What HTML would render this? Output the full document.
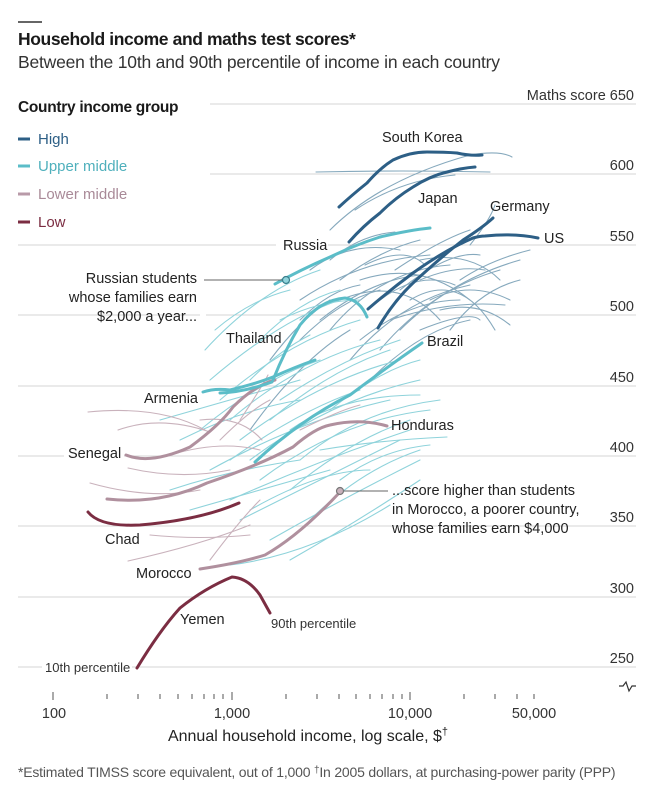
<!DOCTYPE html>
<html><head><meta charset="utf-8">
<style>
html,body{margin:0;padding:0;background:#fff;}
svg{display:block;font-family:"Liberation Sans",sans-serif;}
</style></head>
<body>
<svg width="661" height="800" viewBox="0 0 661 800" xmlns="http://www.w3.org/2000/svg">
<rect width="661" height="800" fill="#fff"/>
<line x1="18" y1="22" x2="42" y2="22" stroke="#333" stroke-width="1.5"/>
<text x="18" y="45" font-size="17.5" font-weight="bold" fill="#1a1a1a" letter-spacing="-0.4">Household income and maths test scores*</text>
<text x="18" y="68" font-size="17.5" fill="#333" letter-spacing="-0.2">Between the 10th and 90th percentile of income in each country</text>

<!-- gridlines -->
<g stroke="#d5d5d5" stroke-width="1">
<line x1="210" y1="104" x2="636" y2="104"/>
<line x1="210" y1="174" x2="636" y2="174"/>
<line x1="18" y1="245" x2="276" y2="245"/><line x1="328" y1="245" x2="636" y2="245"/>
<line x1="18" y1="315" x2="200" y2="315"/><line x1="206" y1="315" x2="636" y2="315"/>
<line x1="18" y1="386" x2="636" y2="386"/>
<line x1="18" y1="456" x2="64" y2="456"/><line x1="124" y1="456" x2="636" y2="456"/>
<line x1="18" y1="526" x2="636" y2="526"/>
<line x1="18" y1="597" x2="636" y2="597"/>
<line x1="18" y1="667" x2="42" y2="667"/><line x1="132" y1="667" x2="636" y2="667"/>
</g>
<g font-size="14.5" fill="#333" text-anchor="end">
<text x="634" y="100">Maths score 650</text>
<text x="634" y="170">600</text>
<text x="634" y="241">550</text>
<text x="634" y="311">500</text>
<text x="634" y="382">450</text>
<text x="634" y="452">400</text>
<text x="634" y="522">350</text>
<text x="634" y="593">300</text>
<text x="634" y="663">250</text>
</g>
<path d="M619,686 l4,0 l3,-4 l3,9 l3,-5 l4,0" fill="none" stroke="#333" stroke-width="1.2"/>

<!-- legend -->
<text x="18" y="112" font-size="15.5" font-weight="bold" fill="#1a1a1a" letter-spacing="-0.3">Country income group</text>
<g font-size="15">
<line x1="18" y1="139" x2="30" y2="139" stroke="#2d5f86" stroke-width="3"/><text x="38" y="144" fill="#2d5f86">High</text>
<line x1="18" y1="166" x2="30" y2="166" stroke="#5bbdc8" stroke-width="3"/><text x="38" y="171" fill="#4fb0bc">Upper middle</text>
<line x1="18" y1="194" x2="30" y2="194" stroke="#b89aa8" stroke-width="3"/><text x="38" y="199" fill="#a98a98">Lower middle</text>
<line x1="18" y1="222" x2="30" y2="222" stroke="#7b2d42" stroke-width="3"/><text x="38" y="227" fill="#7b2d42">Low</text>
</g>

<!-- thin lines -->
<g fill="none" stroke-width="1.1" stroke-linecap="round">
<g stroke="#86a9bd">
<path d="M316,172 Q400,170 490,172"/>
<path d="M330,230 Q380,180 470,155 Q500,150 512,157"/>
<path d="M355,210 Q400,180 455,175"/>
<path d="M300,300 Q360,260 430,255"/>
<path d="M330,330 Q380,270 450,265"/>
<path d="M350,360 Q400,300 470,285"/>
<path d="M380,350 Q430,290 500,270"/>
<path d="M400,330 Q450,280 520,260"/>
<path d="M360,280 Q420,260 470,300"/>
<path d="M410,300 Q460,270 495,330"/>
<path d="M420,260 Q470,250 500,280"/>
<path d="M340,300 Q400,275 440,320"/>
<path d="M390,320 Q450,300 505,305"/>
<path d="M470,245 Q490,220 495,205"/>
<path d="M450,330 Q480,290 520,280"/>
<path d="M310,270 Q350,240 400,250"/>
<path d="M420,330 Q470,310 480,320"/>
<path d="M370,380 Q420,330 470,320"/>
<path d="M300,340 Q340,300 380,290"/>
<path d="M430,300 Q470,280 510,300"/>
<path d="M365,265 Q405,245 425,265"/>
<path d="M250,430 Q300,360 350,330"/>
<path d="M270,360 Q300,320 330,300"/>
<path d="M400,290 Q450,250 480,255"/>
<path d="M340,280 Q380,250 420,240"/>
<path d="M320,320 Q370,280 420,275"/>
<path d="M360,340 Q410,300 460,300"/>
<path d="M440,310 Q480,300 510,325"/>
<path d="M380,300 Q420,270 455,285"/>
<path d="M460,280 Q490,260 530,250"/>
<path d="M330,260 Q360,235 395,232"/>
<path d="M300,320 Q330,290 360,285"/>
<path d="M420,280 Q455,265 485,270"/>
<path d="M395,270 Q440,240 470,230"/>
</g>
<g stroke="#8fd3db">
<path d="M205,350 Q260,290 320,270"/>
<path d="M215,330 Q250,300 290,290"/>
<path d="M210,380 Q280,320 340,300"/>
<path d="M220,400 Q290,340 360,320"/>
<path d="M230,420 Q300,360 380,340"/>
<path d="M240,440 Q320,380 400,360"/>
<path d="M250,460 Q330,400 420,380"/>
<path d="M210,470 Q300,420 390,400"/>
<path d="M260,480 Q340,420 430,410"/>
<path d="M230,500 Q320,460 410,430"/>
<path d="M300,460 Q360,410 440,400"/>
<path d="M240,520 Q320,480 400,440"/>
<path d="M270,540 Q340,500 420,460"/>
<path d="M290,560 Q360,520 420,480"/>
<path d="M230,565 Q310,555 390,505"/>
<path d="M320,450 Q380,440 447,437"/>
<path d="M290,430 Q340,395 420,395"/>
<path d="M160,420 Q230,400 300,380"/>
<path d="M180,440 Q240,410 300,400"/>
<path d="M250,510 Q320,470 370,470"/>
<path d="M330,410 Q380,370 420,360"/>
<path d="M260,340 Q300,300 340,290"/>
<path d="M280,320 Q320,300 360,300"/>
<path d="M170,490 Q230,470 300,460"/>
<path d="M200,430 Q260,380 320,360"/>
<path d="M230,460 Q300,410 360,390"/>
<path d="M270,420 Q330,370 390,350"/>
<path d="M290,490 Q350,440 410,420"/>
<path d="M310,520 Q360,470 420,450"/>
<path d="M190,510 Q260,490 330,470"/>
<path d="M340,480 Q380,450 430,445"/>
<path d="M250,380 Q280,350 310,335"/>
<path d="M280,400 Q340,360 400,340"/>
</g>
<g stroke="#c9b2bc">
<path d="M88,412 Q160,405 205,430"/>
<path d="M118,430 Q160,415 210,432"/>
<path d="M128,468 Q180,480 230,470"/>
<path d="M90,483 Q150,500 200,490"/>
<path d="M200,420 Q240,415 262,440"/>
<path d="M128,561 Q200,545 250,525"/>
<path d="M150,535 Q200,540 250,535"/>
<path d="M210,560 Q240,520 260,500"/>
<path d="M240,420 Q260,390 268,375"/>
<path d="M220,440 Q250,410 270,400"/>
<path d="M300,430 Q340,410 360,405"/>
<path d="M170,455 Q220,440 260,450"/>
</g>
</g>

<!-- thick lines -->
<g fill="none" stroke-width="3" stroke-linecap="round">
<path d="M126,455 Q150,465 190,447 Q220,425 233,407 Q255,385 275,380" stroke="#b0909e"/>
<path d="M107,499 Q160,505 207,483 Q260,465 293,447 Q315,428 330,425 Q360,418 387,426" stroke="#b0909e"/>
<path d="M200,569 Q240,563 265,555 Q300,535 340,492" stroke="#b0909e"/>
<path d="M88,512 Q100,527 140,525 Q200,520 239,503" stroke="#7b2d42"/>
<path d="M137,668 Q160,630 180,608 Q205,588 232,577 Q248,578 260,595 L270,613" stroke="#7b2d42"/>
<path d="M203,392 Q215,388 230,390 Q255,384 273,377 Q295,367 315,360" stroke="#5bbdc8"/>
<path d="M220,393 Q245,392 272,382" stroke="#5bbdc8"/>
<path d="M273,380 Q285,350 300,325 Q320,300 345,298 Q360,300 367,317" stroke="#5bbdc8"/>
<path d="M255,462 Q300,420 350,395 Q390,365 422,343" stroke="#5bbdc8"/>
<path d="M275,284 Q300,270 330,257 Q355,245 380,237 Q410,230 430,228" stroke="#5bbdc8"/>
<path d="M339,207 Q352,195 367,183 Q380,168 393,160 Q410,152 427,152 Q445,152 457,153 Q470,156 482,155" stroke="#2d5f86"/>
<path d="M349,242 Q363,226 380,213 Q395,198 413,187 Q430,176 447,172 Q462,168 475,167" stroke="#2d5f86"/>
<path d="M378,328 Q393,302 413,283 Q440,258 463,240 Q482,228 493,218" stroke="#2d5f86"/>
<path d="M368,309 Q390,290 413,273 Q445,250 473,238 Q480,236 485,236 Q515,233 538,238" stroke="#2d5f86"/>
</g>
<circle cx="286" cy="280" r="3.5" fill="#8fd3db" stroke="#3a7f8c" stroke-width="1.2"/>
<circle cx="340" cy="491" r="3.5" fill="#c9b2bc" stroke="#777" stroke-width="1.2"/>
<line x1="204" y1="280" x2="282" y2="280" stroke="#666" stroke-width="1"/>
<line x1="344" y1="491" x2="388" y2="491" stroke="#666" stroke-width="1"/>

<!-- country labels -->
<g font-size="14.5" fill="#222">
<text x="382" y="142">South Korea</text>
<text x="418" y="203">Japan</text>
<text x="490" y="211">Germany</text>
<text x="544" y="243">US</text>
<text x="283" y="250">Russia</text>
<text x="226" y="343">Thailand</text>
<text x="427" y="346">Brazil</text>
<text x="144" y="403">Armenia</text>
<text x="391" y="430">Honduras</text>
<text x="68" y="458">Senegal</text>
<text x="105" y="544">Chad</text>
<text x="136" y="578">Morocco</text>
<text x="180" y="624">Yemen</text>
</g>
<g font-size="13" fill="#333">
<text x="271" y="628">90th percentile</text>
<text x="45" y="672">10th percentile</text>
</g>
<g font-size="14.5" fill="#222" text-anchor="end">
<text x="197" y="283">Russian students</text>
<text x="197" y="302">whose families earn</text>
<text x="197" y="321">$2,000 a year...</text>
</g>
<g font-size="14.5" fill="#222">
<text x="392" y="495">...score higher than students</text>
<text x="392" y="514">in Morocco, a poorer country,</text>
<text x="392" y="533">whose families earn $4,000</text>
</g>

<!-- x ticks -->
<g stroke="#555" stroke-width="1">
<line x1="53" y1="692" x2="53" y2="700"/>
<line x1="107" y1="694" x2="107" y2="699"/><line x1="138" y1="694" x2="138" y2="699"/>
<line x1="160" y1="694" x2="160" y2="699"/><line x1="178" y1="694" x2="178" y2="699"/>
<line x1="192" y1="694" x2="192" y2="699"/><line x1="204" y1="694" x2="204" y2="699"/>
<line x1="214" y1="694" x2="214" y2="699"/><line x1="223" y1="694" x2="223" y2="699"/>
<line x1="232" y1="692" x2="232" y2="700"/>
<line x1="286" y1="694" x2="286" y2="699"/><line x1="317" y1="694" x2="317" y2="699"/>
<line x1="339" y1="694" x2="339" y2="699"/><line x1="356" y1="694" x2="356" y2="699"/>
<line x1="370" y1="694" x2="370" y2="699"/><line x1="382" y1="694" x2="382" y2="699"/>
<line x1="393" y1="694" x2="393" y2="699"/><line x1="402" y1="694" x2="402" y2="699"/>
<line x1="410" y1="692" x2="410" y2="700"/>
<line x1="464" y1="694" x2="464" y2="699"/><line x1="495" y1="694" x2="495" y2="699"/>
<line x1="517" y1="694" x2="517" y2="699"/><line x1="534" y1="694" x2="534" y2="699"/>
</g>
<g font-size="14.5" fill="#333" text-anchor="middle">
<text x="54" y="718">100</text>
<text x="232" y="718">1,000</text>
<text x="410" y="718">10,000</text>
<text x="534" y="718">50,000</text>
</g>
<text x="308" y="741" font-size="16" fill="#222" text-anchor="middle">Annual household income, log scale, $<tspan font-size="11" dy="-6">†</tspan></text>
<text x="18" y="777" font-size="14" fill="#555" letter-spacing="-0.2">*Estimated TIMSS score equivalent, out of 1,000 <tspan font-size="10" dy="-4">†</tspan><tspan dy="4">In 2005 dollars, at purchasing-power parity (PPP)</tspan></text>
</svg>
</body></html>
